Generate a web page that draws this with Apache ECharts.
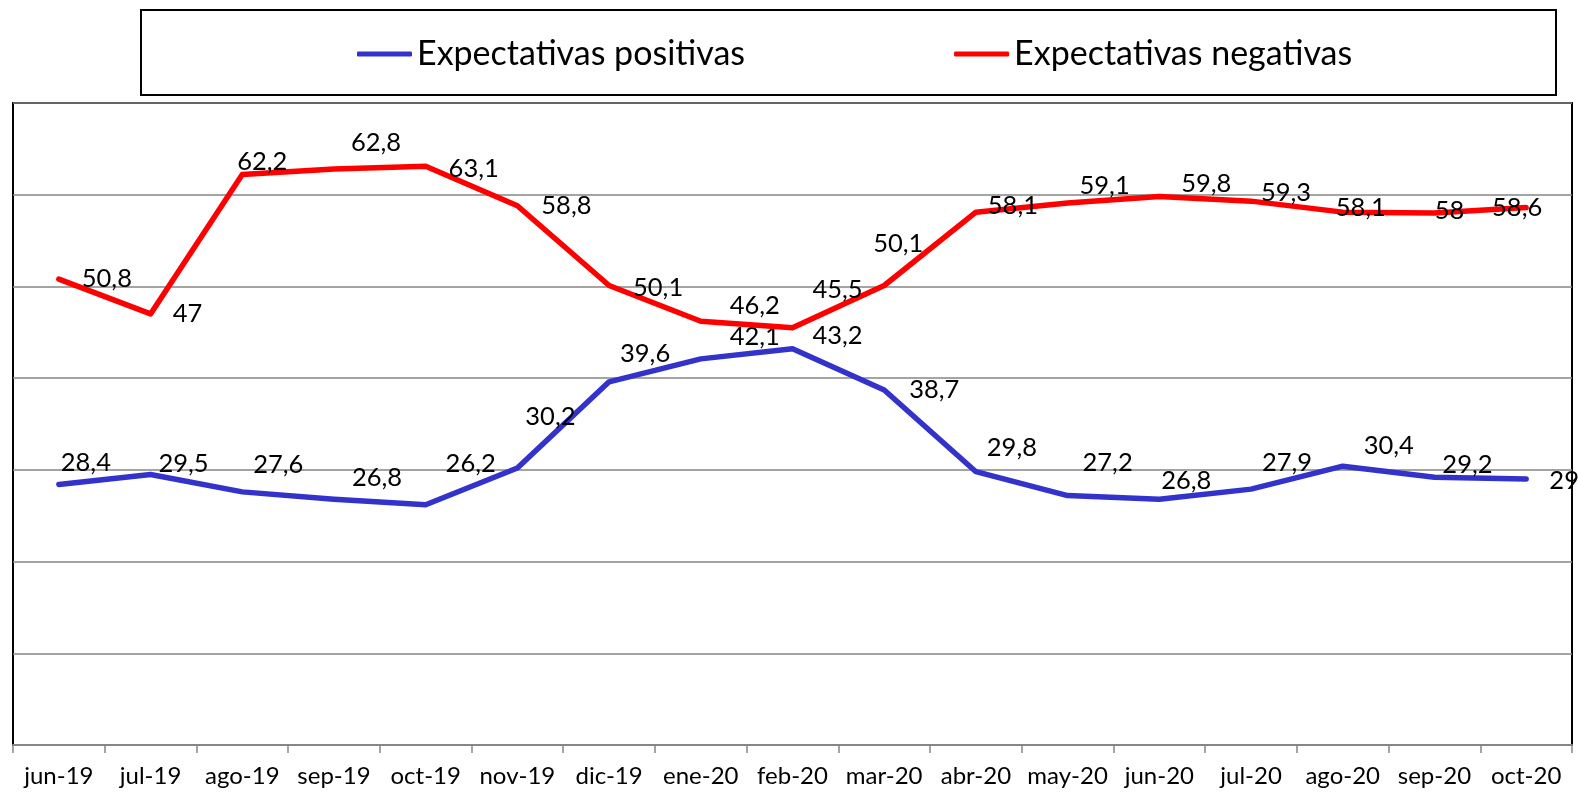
<!DOCTYPE html>
<html>
<head>
<meta charset="utf-8">
<script src="https://cdn.jsdelivr.net/npm/echarts@6/dist/echarts.min.js"></script>
<style>
html,body{margin:0;padding:0;background:#fff;}
#chart{width:1578px;height:793px;}
</style>
</head>
<body>
<div id="chart"></div>
<script>
const categories = ['jun-19','jul-19','ago-19','sep-19','oct-19','nov-19','dic-19','ene-20','feb-20','mar-20','abr-20','may-20','jun-20','jul-20','ago-20','sep-20','oct-20'];
const positivas = [28.4,29.5,27.6,26.8,26.2,30.2,39.6,42.1,43.2,38.7,29.8,27.2,26.8,27.9,30.4,29.2,29];
const negativas = [50.8,47,62.2,62.8,63.1,58.8,50.1,46.2,45.5,50.1,58.1,59.1,59.8,59.3,58.1,58,58.6];
const seriesNames = ['Expectativas positivas','Expectativas negativas'];

// label placement offsets (style only, pixels relative to each point)
const posLabelOffsets = [[27,-22],[33,-11],[36,-27],[43,-21],[45,-41],[33,-51],[36,-28],[54,-22],[45,-13],[50,0],[36,-24],[40,-33],[27,-18],[36,-26],[46,-20],[33,-12],[38,2]];
const negLabelOffsets = [[48,0],[37,0],[20,-13],[42,-26],[48,2],[49,0],[49,2],[54,-15],[45,-38],[14,-42],[37,-6],[37,-17],[47,-13],[35,-8],[18,-4],[15,-2],[-9,0]];

const FONT = 'Lato';
const chart = echarts.init(document.getElementById('chart'), null, {renderer:'canvas'});

function build(values, offsets){
  return values.map((v,i)=>({value:v, label:{offset:offsets[i]}}));
}
const labelStyle = {
  show:true, position:'inside', color:'#000', fontFamily:FONT, fontSize:25.5,
  align:'center', verticalAlign:'middle',
  formatter: p => String(p.value).replace('.', ',')
};

chart.setOption({
  animation:false,
  backgroundColor:'#fff',
  graphic:[{
    type:'rect', shape:{x:141, y:10, width:1415, height:85},
    style:{fill:'none', stroke:'#000', lineWidth:2}, z:100
  }],
  legend:{
    left:352, top:29, itemWidth:55, itemHeight:5, itemGap:209, icon:'roundRect',
    textStyle:{fontFamily:FONT, fontSize:34, color:'#000', lineHeight:40},
    data:seriesNames
  },
  grid:{left:13, right:6, top:103, bottom:48, show:true, borderColor:'#000', borderWidth:2, containLabel:false},
  xAxis:{
    type:'category', data:categories, boundaryGap:true,
    axisLine:{show:true, lineStyle:{color:'#868686', width:2}},
    axisTick:{show:true, length:8, alignWithLabel:false, lineStyle:{color:'#868686', width:1.5}},
    axisLabel:{color:'#000', fontFamily:FONT, fontSize:24, margin:19, interval:0},
    splitLine:{show:false}
  },
  yAxis:{
    type:'value', min:0, max:70, interval:10,
    axisLabel:{show:false}, axisTick:{show:false},
    axisLine:{show:false},
    splitLine:{show:true, lineStyle:{color:'#868686', width:1.5}}
  },
  series:[
    {name:seriesNames[0], type:'line', data:build(positivas,posLabelOffsets),
     symbol:'circle', symbolSize:2, showSymbol:true,
     lineStyle:{color:'#3333CC', width:5.5, cap:'round', join:'round'},
     itemStyle:{color:'#3333CC'}, label:labelStyle, z:3},
    {name:seriesNames[1], type:'line', data:build(negativas,negLabelOffsets),
     symbol:'circle', symbolSize:2, showSymbol:true,
     lineStyle:{color:'#FF0000', width:5.5, cap:'round', join:'round'},
     itemStyle:{color:'#FF0000'}, label:labelStyle, z:4}
  ]
});
</script>
</body>
</html>
